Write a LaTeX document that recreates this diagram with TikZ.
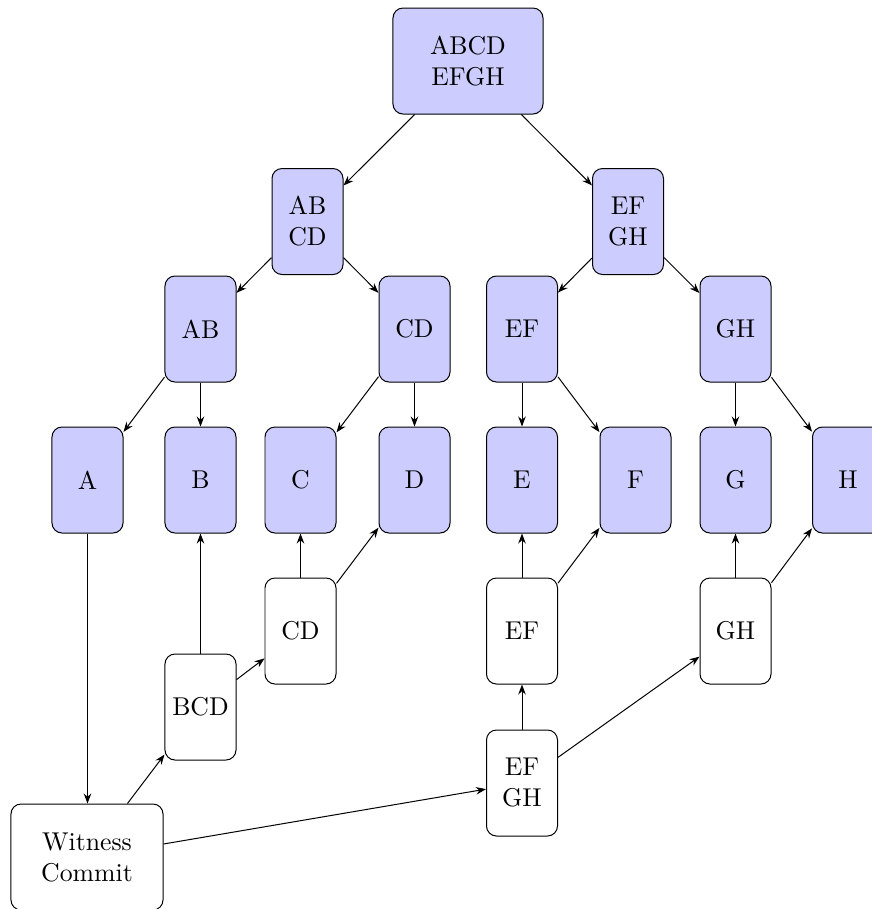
\documentclass[tikz,border=0pt]{standalone}
\usetikzlibrary{arrows.meta}
\begin{document}
\begin{tikzpicture}[x=0.4pt,y=-0.4pt,
  box/.style={draw, rounded corners=4pt, minimum width=28.4pt, minimum height=42.4pt, inner sep=1pt, align=center, font=\fontsize{10.3}{12.4}\selectfont},
  blue box/.style={box, fill=blue!20},
  white box/.style={box, fill=white},
  conn/.style={-{Stealth[length=4pt,width=3pt]}}]
\useasboundingbox (0,0) rectangle (872,909);
\node[blue box, minimum width=60pt] (top) at (468,61) {ABCD\\EFGH};
\node[blue box] (abcd) at (307.5,221.5) {AB\\CD};
\node[blue box] (efgh) at (628,221.5) {EF\\GH};
\node[blue box] (ab) at (200.5,329) {AB};
\node[blue box] (cd) at (414.5,329) {CD};
\node[blue box] (ef) at (522,329) {EF};
\node[blue box] (gh) at (735.5,329) {GH};
\node[blue box] (a) at (87.5,480) {A};
\node[blue box] (b) at (200.5,480) {B};
\node[blue box] (c) at (300.5,480) {C};
\node[blue box] (d) at (414.5,480) {D};
\node[blue box] (e) at (522,480) {E};
\node[blue box] (f) at (635.5,480) {F};
\node[blue box] (g) at (735.5,480) {G};
\node[blue box] (h) at (848,480) {H};
\node[white box] (cdw) at (300.5,631) {CD};
\node[white box] (efw) at (522,631) {EF};
\node[white box] (ghw) at (735.5,631) {GH};
\node[white box] (bcd) at (200.5,707) {BCD};
\node[white box] (efghw) at (522,783) {EF\\GH};
\node[white box, minimum width=60.8pt] (wit) at (87,857) {Witness\\Commit};
\draw[conn] (top) -- (abcd);
\draw[conn] (top) -- (efgh);
\draw[conn] (abcd) -- (ab);
\draw[conn] (abcd) -- (cd);
\draw[conn] (efgh) -- (ef);
\draw[conn] (efgh) -- (gh);
\draw[conn] (ab) -- (a);
\draw[conn] (ab) -- (b);
\draw[conn] (cd) -- (c);
\draw[conn] (cd) -- (d);
\draw[conn] (ef) -- (e);
\draw[conn] (ef) -- (f);
\draw[conn] (gh) -- (g);
\draw[conn] (gh) -- (h);
\draw[conn] (a) -- (a |- wit.north);
\draw[conn] (wit) -- (bcd);
\draw[conn] (wit) -- (efghw);
\draw[conn] (bcd) -- (b);
\draw[conn] (bcd) -- (cdw);
\draw[conn] (cdw) -- (c);
\draw[conn] (cdw) -- (d);
\draw[conn] (efghw) -- (efw);
\draw[conn] (efghw) -- (ghw);
\draw[conn] (efw) -- (e);
\draw[conn] (efw) -- (f);
\draw[conn] (ghw) -- (g);
\draw[conn] (ghw) -- (h);
\end{tikzpicture}
\end{document}
